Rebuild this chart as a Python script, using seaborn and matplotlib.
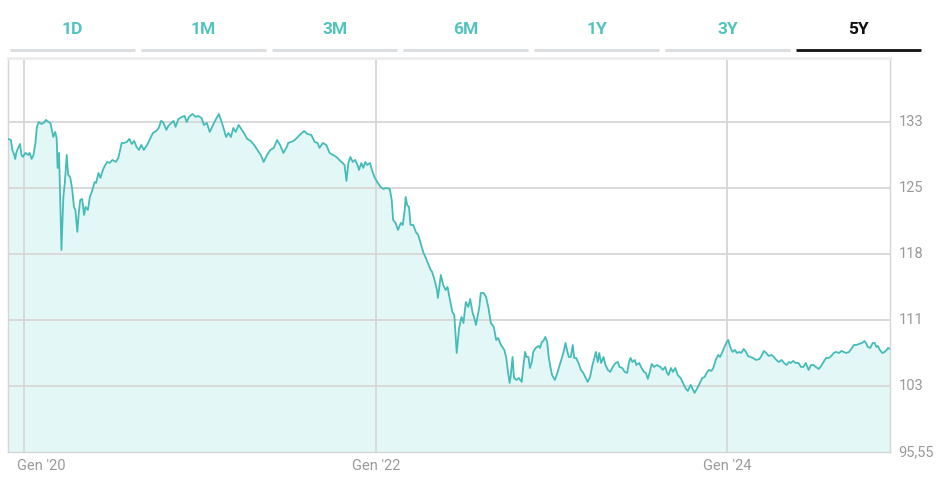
import matplotlib
matplotlib.use("Agg")
import matplotlib.pyplot as plt
import matplotlib.dates as mdates
import seaborn as sns
import pandas as pd
import numpy as np

# ---------------- data ----------------
dates = [
    "2019-11-29", "2019-12-05", "2019-12-08", "2019-12-12", "2019-12-14", "2019-12-16", "2019-12-20",
    "2019-12-24", "2019-12-27", "2019-12-30", "2020-01-04", "2020-01-10", "2020-01-13", "2020-01-17",
    "2020-01-21", "2020-01-25", "2020-01-28", "2020-02-01", "2020-02-06", "2020-02-11", "2020-02-16",
    "2020-02-21", "2020-02-25", "2020-02-28", "2020-03-02", "2020-03-06", "2020-03-09", "2020-03-11",
    "2020-03-14", "2020-03-16", "2020-03-19", "2020-03-23", "2020-03-26", "2020-03-30", "2020-04-02",
    "2020-04-06", "2020-04-10", "2020-04-14", "2020-04-17", "2020-04-21", "2020-04-24", "2020-04-27",
    "2020-05-01", "2020-05-05", "2020-05-08", "2020-05-13", "2020-05-17", "2020-05-21", "2020-05-27",
    "2020-05-30", "2020-06-04", "2020-06-08", "2020-06-13", "2020-06-18", "2020-06-22", "2020-06-27",
    "2020-07-03", "2020-07-10", "2020-07-15", "2020-07-19", "2020-07-22", "2020-07-27", "2020-08-02",
    "2020-08-07", "2020-08-12", "2020-08-17", "2020-08-22", "2020-08-27", "2020-09-01", "2020-09-06",
    "2020-09-13", "2020-09-20", "2020-09-25", "2020-10-02", "2020-10-07", "2020-10-12", "2020-10-16",
    "2020-10-23", "2020-10-27", "2020-11-02", "2020-11-07", "2020-11-11", "2020-11-17", "2020-11-24",
    "2020-11-30", "2020-12-04", "2020-12-09", "2020-12-16", "2020-12-23", "2020-12-28", "2021-01-04",
    "2021-01-09", "2021-01-15", "2021-01-21", "2021-01-26", "2021-02-02", "2021-02-09", "2021-02-14",
    "2021-02-18", "2021-02-24", "2021-03-01", "2021-03-06", "2021-03-11", "2021-03-16", "2021-03-22",
    "2021-03-29", "2021-04-02", "2021-04-09", "2021-04-16", "2021-04-23", "2021-04-30", "2021-05-07",
    "2021-05-13", "2021-05-20", "2021-05-27", "2021-06-03", "2021-06-10", "2021-06-16", "2021-06-23",
    "2021-06-30", "2021-07-03", "2021-07-14", "2021-07-21", "2021-07-27", "2021-08-05", "2021-08-12",
    "2021-08-20", "2021-08-27", "2021-09-02", "2021-09-06", "2021-09-13", "2021-09-20", "2021-09-27",
    "2021-10-04", "2021-10-11", "2021-10-17", "2021-10-24", "2021-10-28", "2021-11-01", "2021-11-05",
    "2021-11-09", "2021-11-14", "2021-11-19", "2021-11-24", "2021-11-27", "2021-12-02", "2021-12-06",
    "2021-12-10", "2021-12-14", "2021-12-20", "2021-12-24", "2021-12-29", "2022-01-04", "2022-01-11",
    "2022-01-16", "2022-01-23", "2022-01-30", "2022-02-03", "2022-02-06", "2022-02-11", "2022-02-16",
    "2022-02-22", "2022-02-26", "2022-03-02", "2022-03-04", "2022-03-07", "2022-03-11", "2022-03-14",
    "2022-03-20", "2022-03-25", "2022-03-30", "2022-04-04", "2022-04-10", "2022-04-15", "2022-04-19",
    "2022-04-25", "2022-04-28", "2022-05-03", "2022-05-08", "2022-05-10", "2022-05-16", "2022-05-21",
    "2022-05-26", "2022-05-30", "2022-06-04", "2022-06-09", "2022-06-13", "2022-06-18", "2022-06-23",
    "2022-06-28", "2022-07-02", "2022-07-07", "2022-07-12", "2022-07-16", "2022-07-21", "2022-07-24",
    "2022-07-28", "2022-07-31", "2022-08-04", "2022-08-07", "2022-08-13", "2022-08-18", "2022-08-23",
    "2022-08-28", "2022-09-03", "2022-09-08", "2022-09-12", "2022-09-18", "2022-09-25", "2022-09-29",
    "2022-10-02", "2022-10-06", "2022-10-08", "2022-10-12", "2022-10-15", "2022-10-20", "2022-10-25",
    "2022-10-31", "2022-11-03", "2022-11-07", "2022-11-10", "2022-11-14", "2022-11-17", "2022-11-21",
    "2022-11-24", "2022-11-29", "2022-12-05", "2022-12-08", "2022-12-12", "2022-12-15", "2022-12-19",
    "2022-12-23", "2022-12-26", "2022-12-30", "2023-01-02", "2023-01-08", "2023-01-13", "2023-01-18",
    "2023-01-23", "2023-01-27", "2023-01-30", "2023-02-03", "2023-02-06", "2023-02-10", "2023-02-14",
    "2023-02-17", "2023-02-21", "2023-02-26", "2023-03-03", "2023-03-08", "2023-03-12", "2023-03-17",
    "2023-03-22", "2023-03-27", "2023-03-31", "2023-04-03", "2023-04-07", "2023-04-10", "2023-04-14",
    "2023-04-19", "2023-04-23", "2023-04-28", "2023-05-03", "2023-05-08", "2023-05-14", "2023-05-19",
    "2023-05-22", "2023-05-28", "2023-06-02", "2023-06-07", "2023-06-11", "2023-06-14", "2023-06-18",
    "2023-06-23", "2023-06-26", "2023-07-02", "2023-07-07", "2023-07-12", "2023-07-16", "2023-07-20",
    "2023-07-24", "2023-07-28", "2023-08-02", "2023-08-08", "2023-08-15", "2023-08-20", "2023-08-25",
    "2023-08-29", "2023-09-01", "2023-09-06", "2023-09-10", "2023-09-15", "2023-09-20", "2023-09-26",
    "2023-10-01", "2023-10-06", "2023-10-11", "2023-10-17", "2023-10-20", "2023-10-25", "2023-10-31",
    "2023-11-05", "2023-11-10", "2023-11-15", "2023-11-19", "2023-11-24", "2023-11-29", "2023-12-03",
    "2023-12-08", "2023-12-13", "2023-12-17", "2023-12-22", "2023-12-26", "2023-12-31", "2024-01-03",
    "2024-01-07", "2024-01-12", "2024-01-17", "2024-01-21", "2024-01-26", "2024-01-30", "2024-02-04",
    "2024-02-09", "2024-02-13", "2024-02-18", "2024-02-23", "2024-03-01", "2024-03-08", "2024-03-13",
    "2024-03-17", "2024-03-22", "2024-03-27", "2024-04-02", "2024-04-07", "2024-04-12", "2024-04-17",
    "2024-04-23", "2024-04-28", "2024-05-03", "2024-05-08", "2024-05-12", "2024-05-17", "2024-05-22",
    "2024-05-28", "2024-06-02", "2024-06-07", "2024-06-12", "2024-06-18", "2024-06-23", "2024-06-28",
    "2024-07-03", "2024-07-09", "2024-07-14", "2024-07-19", "2024-07-24", "2024-07-30", "2024-08-04",
    "2024-08-09", "2024-08-14", "2024-08-20", "2024-08-25", "2024-08-30", "2024-09-04", "2024-09-10",
    "2024-09-16", "2024-09-20", "2024-09-25", "2024-10-01", "2024-10-07", "2024-10-12", "2024-10-15",
    "2024-10-19", "2024-10-24", "2024-10-29", "2024-11-02", "2024-11-06", "2024-11-09", "2024-11-13",
    "2024-11-18", "2024-11-23", "2024-11-27", "2024-11-30", "2024-12-04",
]

prices = [
    131.03, 130.91, 129.78, 129.21, 128.76, 129.44, 130.01,
    130.46, 129.21, 128.99, 129.44, 129.21, 129.44, 128.76,
    129.21, 130.57, 132.39, 132.95, 132.73, 132.84, 133.18,
    132.95, 132.84, 132.05, 131.25, 131.82, 131.14, 127.74,
    129.44, 125.25, 118.45, 124.45, 126.04, 129.21, 126.95,
    126.72, 125.47, 123.32, 122.98, 120.49, 122.64, 124.11,
    124.23, 122.41, 123.32, 122.98, 124.45, 125.02, 126.15,
    126.04, 127.17, 126.61, 127.51, 128.08, 128.42, 128.31,
    128.65, 128.42, 128.87, 129.78, 130.57, 130.57, 130.69,
    131.03, 130.46, 130.80, 130.12, 129.78, 130.35, 129.78,
    130.35, 131.14, 131.71, 131.93, 132.27, 133.07, 132.95,
    132.05, 132.50, 132.84, 133.07, 132.39, 133.29, 133.52,
    133.63, 132.95, 133.52, 133.86, 133.52, 133.63, 133.41,
    132.61, 132.84, 131.82, 132.39, 133.18, 133.86, 133.07,
    132.39, 131.25, 131.71, 131.25, 132.27, 131.82, 132.61,
    132.05, 131.71, 131.03, 130.80, 130.35, 129.78, 129.21,
    128.42, 129.21, 129.78, 130.01, 130.91, 130.35, 129.44,
    130.12, 130.57, 130.80, 131.14, 131.48, 131.93, 131.59,
    131.48, 130.69, 130.57, 130.01, 130.57, 130.35, 129.44,
    129.21, 128.99, 128.65, 128.31, 128.08, 126.27, 128.31,
    128.99, 128.42, 128.65, 128.08, 127.51, 128.31, 127.74,
    128.42, 128.08, 128.31, 127.51, 126.72, 126.15, 125.59,
    125.36, 125.47, 125.36, 124.11, 121.85, 121.51, 120.71,
    121.51, 121.28, 122.98, 124.45, 123.55, 123.32, 121.28,
    121.28, 120.49, 120.15, 119.24, 118.11, 117.54, 116.97,
    116.18, 115.95, 115.05, 113.91, 113.01, 115.61, 114.48,
    113.91, 114.25, 112.78, 111.42, 111.08, 106.77, 109.61,
    110.85, 110.17, 112.55, 111.99, 112.89, 111.31, 110.85,
    109.95, 110.85, 111.99, 113.57, 113.57, 113.12, 111.87,
    110.17, 109.72, 108.25, 108.47, 107.68, 107.11, 106.21,
    104.85, 103.38, 104.05, 106.32, 103.94, 103.72, 103.94,
    103.49, 105.07, 106.89, 106.32, 106.32, 105.07, 105.75,
    106.89, 107.34, 107.57, 107.34, 108.02, 108.13, 108.59,
    108.02, 106.32, 105.07, 104.28, 103.72, 104.51, 105.41,
    106.32, 107.11, 107.91, 106.89, 106.32, 106.32, 107.68,
    106.21, 106.21, 105.64, 104.85, 104.51, 104.05, 103.49,
    104.05, 105.41, 106.21, 106.89, 105.75, 106.77, 105.64,
    106.32, 105.41, 104.85, 104.62, 105.19, 105.64, 105.75,
    105.19, 105.07, 104.62, 104.51, 105.75, 106.21, 105.75,
    105.98, 105.41, 105.64, 105.07, 104.62, 104.51, 103.83,
    104.62, 105.53, 105.19, 105.41, 105.19, 104.85, 105.19,
    104.51, 104.28, 105.07, 104.62, 105.07, 104.28, 103.94,
    103.38, 102.81, 102.47, 103.15, 102.81, 102.24, 102.81,
    103.38, 103.94, 104.05, 104.51, 104.85, 104.73, 105.07,
    105.98, 106.55, 106.32, 106.89, 107.45, 108.02, 108.25,
    107.45, 106.89, 107.11, 106.77, 106.89, 106.77, 107.23,
    106.89, 106.43, 106.32, 106.21, 105.98, 106.09, 106.55,
    107.00, 106.77, 106.43, 106.55, 106.32, 105.98, 105.75,
    105.98, 105.64, 105.41, 105.75, 105.64, 105.87, 105.64,
    105.64, 105.19, 105.19, 105.64, 104.85, 105.41, 105.41,
    105.19, 104.96, 105.30, 105.75, 106.21, 106.21, 106.43,
    106.77, 106.89, 106.77, 107.00, 106.89, 106.77, 106.89,
    107.34, 107.68, 107.68, 107.79, 107.91, 108.13, 107.91,
    107.45, 107.34, 107.91, 107.91, 107.45, 107.57, 107.11,
    106.77, 106.89, 107.11, 107.34, 107.23,
]

y_ticks = [95.55, 103.03, 110.51, 117.99, 125.47, 132.95]
y_tick_labels = ["95,55", "103", "111", "118", "125", "133"]
x_ticks = ["2020-01-01", "2022-01-01", "2024-01-01"]
x_tick_labels = ["Gen '20", "Gen '22", "Gen '24"]
tabs = ["1D", "1M", "3M", "6M", "1Y", "3Y", "5Y"]
active_tab = "5Y"
y_top = 140.2

# ---------------- style ----------------
sns.set_theme(style="white")
FONT = ["Liberation Sans Narrow", "Roboto", "DejaVu Sans"]
plt.rcParams["font.family"] = FONT

LINE = "#45bcb7"
FILL = "#e3f7f6"
TEAL_TXT = "#52c4c0"
GRID = "#d9d9d9"
TICK_TXT = "#9a9a9a"

df = pd.DataFrame({"date": pd.to_datetime(dates), "price": prices})

fig = plt.figure(figsize=(9.42, 4.92), dpi=100)
ax = fig.add_axes([8 / 942, 1 - 452 / 492, (890 - 8) / 942, (452 - 58) / 492])

ax.fill_between(df["date"], df["price"], y_ticks[0], color=FILL, lw=0, zorder=1)
sns.lineplot(data=df, x="date", y="price", ax=ax, color=LINE, lw=1.3, zorder=3)

ax.set_xlim(df["date"].iloc[0], df["date"].iloc[-1])
ax.set_ylim(y_ticks[0], y_top)

# horizontal grid lines
for v in y_ticks[1:]:
    ax.axhline(v, color=GRID, lw=1.4, zorder=2)
# vertical year lines
xt = pd.to_datetime(x_ticks)
for d in xt:
    ax.axvline(d, color="#d3d8d8", lw=1.3, zorder=2)

ax.set_yticks(y_ticks)
ax.set_yticklabels(y_tick_labels)
ax.yaxis.tick_right()
ax.tick_params(axis="y", length=0, pad=6, labelsize=10.5, labelcolor=TICK_TXT)
ax.set_xticks(xt)
ax.set_xticklabels(x_tick_labels)
ax.tick_params(axis="x", length=0, pad=5, labelsize=10.5, labelcolor=TICK_TXT)
ax.xaxis.set_major_formatter(plt.FixedFormatter(x_tick_labels))
for lab in ax.get_yticklabels():
    lab.set_verticalalignment("center")
# first x label is pushed right so it stays inside the figure
first = ax.get_xticklabels()[0]
first.set_horizontalalignment("left")
import matplotlib.transforms as mtrans
first.set_transform(first.get_transform() + mtrans.ScaledTranslation(-7 / 100, 0, fig.dpi_scale_trans))

ax.set_xlabel("")
ax.set_ylabel("")

# spines
for side in ["left", "right", "bottom"]:
    ax.spines[side].set_visible(True)
    ax.spines[side].set_color("#d6d6d6")
    ax.spines[side].set_linestyle((0, (1, 1)))
    ax.spines[side].set_linewidth(1.0)
ax.spines["top"].set_color("#eeeeee")
ax.spines["top"].set_linewidth(2)

# ---------------- tabs at the top ----------------
tab_left = 10
tab_w = 125.3
tab_gap = 5.7
for i, t in enumerate(tabs):
    x0 = tab_left + i * (tab_w + tab_gap)
    x1 = x0 + tab_w
    active = (t == active_tab)
    fig.add_artist(plt.Line2D([x0 / 942, x1 / 942], [1 - 50 / 492] * 2,
                              color="#111111" if active else "#dcdfe2",
                              lw=2.0 if active else 2.2, transform=fig.transFigure,
                              solid_capstyle="butt"))
    fig.text((x0 + x1) / 2 / 942, 1 - 30 / 492, t, ha="center", va="center",
             fontsize=12.5, fontweight="bold",
             color="#111111" if active else TEAL_TXT)

fig.savefig("out.png", dpi=100)
